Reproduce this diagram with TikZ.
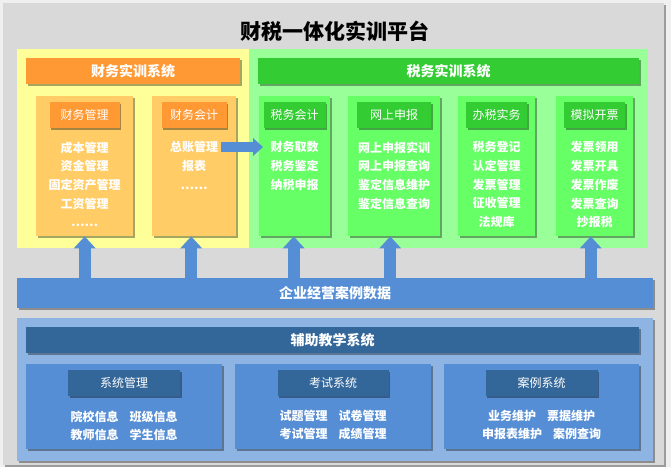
\documentclass[tikz,border=0pt]{standalone}
\usepackage{fontspec}
\setmainfont{Noto Sans CJK SC}
\usetikzlibrary{shadows,arrows.meta}
\definecolor{bggray}{HTML}{D9D9D9}
\definecolor{ylw}{HTML}{FFFF99}
\definecolor{grnp}{HTML}{99FF99}
\definecolor{orgh}{HTML}{FF9933}
\definecolor{orgc}{HTML}{FFCC66}
\definecolor{grnh}{HTML}{33CC33}
\definecolor{grnc}{HTML}{66FF66}
\definecolor{blu}{HTML}{558ED5}
\definecolor{lblu}{HTML}{8EB4E3}
\definecolor{dblu}{HTML}{336699}
\newcommand\ttlfont{\fontsize{21}{24}\selectfont\bfseries}
\newcommand\hdfont{\fontsize{14}{16}\selectfont\bfseries}
\newcommand\labfont{\fontsize{12}{14}\selectfont}
\newcommand\itfont{\fontsize{12}{18.7}\selectfont\bfseries}
\tikzset{
  box/.style={anchor=north west,inner sep=0pt,draw=none},
  shd/.style={drop shadow={shadow xshift=1.5pt,shadow yshift=-1.5pt,fill=black,opacity=.35}},
  head/.style={box,shd,minimum height=26,text=white,font=\hdfont},
  colbox/.style={box,shd,minimum height=140},
  lab/.style={anchor=north,inner sep=0pt,shd,minimum height=26,text=white,font=\labfont},
  item/.style={anchor=north,inner sep=0pt,align=center,text=white,font=\itfont},
  up/.style={draw=blu,line width=12pt,-{Triangle[length=12pt,width=22pt,line width=0pt]}},
  rt/.style={draw=blu,line width=10pt,-{Triangle[length=10pt,width=18pt,line width=0pt]}}
}
\begin{document}
\begin{tikzpicture}[x=1pt,y=-1pt]
\useasboundingbox[fill=black!6] (0,0) rectangle (671,467);
\node[box,shd,fill=bggray,minimum width=661,minimum height=462] (plat) at (3,3) {};
\node[font=\ttlfont] (title) at (335,31) {财税一体化实训平台};
% finance and tax training
\node[box,fill=ylw,minimum width=232,minimum height=199] (fsys) at (17,49) {};
\node[box,fill=grnp,minimum width=399,minimum height=199] (ssys) at (249,49) {};
\node[head,fill=orgh,minimum width=214] (fhead) at (26,58) {财务实训系统};
\node[head,fill=grnh,minimum width=381] (shead) at (258,58) {税务实训系统};
\node[colbox,fill=orgc,minimum width=97] (cwgl) at (36,96) {};
\node[colbox,fill=orgc,minimum width=84] (cwkj) at (152,96) {};
\node[colbox,fill=grnc,minimum width=71] (swkj) at (259,96) {};
\node[colbox,fill=grnc,minimum width=92] (wssb) at (348,96) {};
\node[colbox,fill=grnc,minimum width=77] (bssw) at (458,96) {};
\node[colbox,fill=grnc,minimum width=77] (mnkp) at (556,96) {};
\node[lab,fill=orgh,minimum width=70] (lcwgl) at ([yshift=-6pt]cwgl.north) {财务管理};
\node[lab,fill=orgh,minimum width=65] (lcwkj) at ([yshift=-6pt]cwkj.north) {财务会计};
\node[lab,fill=grnh,minimum width=62] (lswkj) at ([yshift=-6pt]swkj.north) {税务会计};
\node[lab,fill=grnh,minimum width=74] (lwssb) at ([yshift=-6pt]wssb.north) {网上申报};
\node[lab,fill=grnh,minimum width=61] (lbssw) at ([yshift=-6pt]bssw.north) {办税实务};
\node[lab,fill=grnh,minimum width=61] (lmnkp) at ([yshift=-6pt]mnkp.north) {模拟开票};
\node[item] (icwgl) at ([yshift=-13pt]lcwgl.south) {成本管理\\资金管理\\固定资产管理\\工资管理\\……};
\node[item] (icwkj) at ([yshift=-13pt]lcwkj.south) {总账管理\\报表\\……};
\node[item] (iswkj) at ([yshift=-13pt]lswkj.south) {财务取数\\税务鉴定\\纳税申报};
\node[item] (iwssb) at ([yshift=-13pt]lwssb.south) {网上申报实训\\网上申报查询\\鉴定信息维护\\鉴定信息查询};
\node[item] (ibssw) at ([yshift=-13pt]lbssw.south) {税务登记\\认定管理\\发票管理\\征收管理\\法规库};
\node[item] (imnkp) at ([yshift=-13pt]lmnkp.south) {发票领用\\发票开具\\发票作废\\发票查询\\抄报税};
% case data
\node[box,shd,fill=blu,minimum width=636,minimum height=30,text=white,font=\hdfont] (data) at (17,278) {企业经营案例数据};
% auxiliary teaching
\node[box,shd,fill=lblu,minimum width=636,minimum height=143] (fzjx) at (17,318) {};
\node[head,fill=dblu,minimum width=613] (fhd) at (26,327) {辅助教学系统};
\node[box,shd,fill=blu,minimum width=196,minimum height=85] (xtgl) at (26,364) {};
\node[box,shd,fill=blu,minimum width=196,minimum height=85] (kssys) at (235,364) {};
\node[box,shd,fill=blu,minimum width=195,minimum height=85] (alsys) at (444,364) {};
\node[lab,fill=dblu,minimum width=112] (lxtgl) at ([yshift=-6pt]xtgl.north) {系统管理};
\node[lab,fill=dblu,minimum width=111] (lkssys) at ([yshift=-6pt]kssys.north) {考试系统};
\node[lab,fill=dblu,minimum width=112] (lalsys) at ([yshift=-6pt]alsys.north) {案例系统};
\node[item,font=\fontsize{12}{18}\selectfont\bfseries] (ixtgl) at ([yshift=-14pt]lxtgl.south) {院校信息\hspace{11pt}班级信息\\教师信息\hspace{11pt}学生信息};
\node[item,font=\fontsize{12}{18}\selectfont\bfseries] (ikssys) at ([yshift=-14pt]lkssys.south) {试题管理\hspace{11pt}试卷管理\\考试管理\hspace{11pt}成绩管理};
\node[item,font=\fontsize{12}{18}\selectfont\bfseries] (ialsys) at ([yshift=-14pt]lalsys.south) {业务维护\hspace{11pt}票据维护\\申报表维护\hspace{11pt}案例查询};
% arrows
\coordinate (zzgl) at (221,147);
\draw[rt] (zzgl) -- ([xshift=4pt]swkj.west |- zzgl);
\draw[up] (cwgl.south |- data.north) -- (cwgl.south);
\draw[up] ([xshift=-3pt]cwkj.south |- data.north) -- ([xshift=-3pt]cwkj.south);
\draw[up] ([xshift=-1pt]swkj.south |- data.north) -- ([xshift=-1pt]swkj.south);
\draw[up] ([xshift=-4pt]wssb.south |- data.north) -- ([xshift=-4pt]wssb.south);
\draw[up] ([xshift=-4pt]mnkp.south |- data.north) -- ([xshift=-4pt]mnkp.south);
\end{tikzpicture}
\end{document}
